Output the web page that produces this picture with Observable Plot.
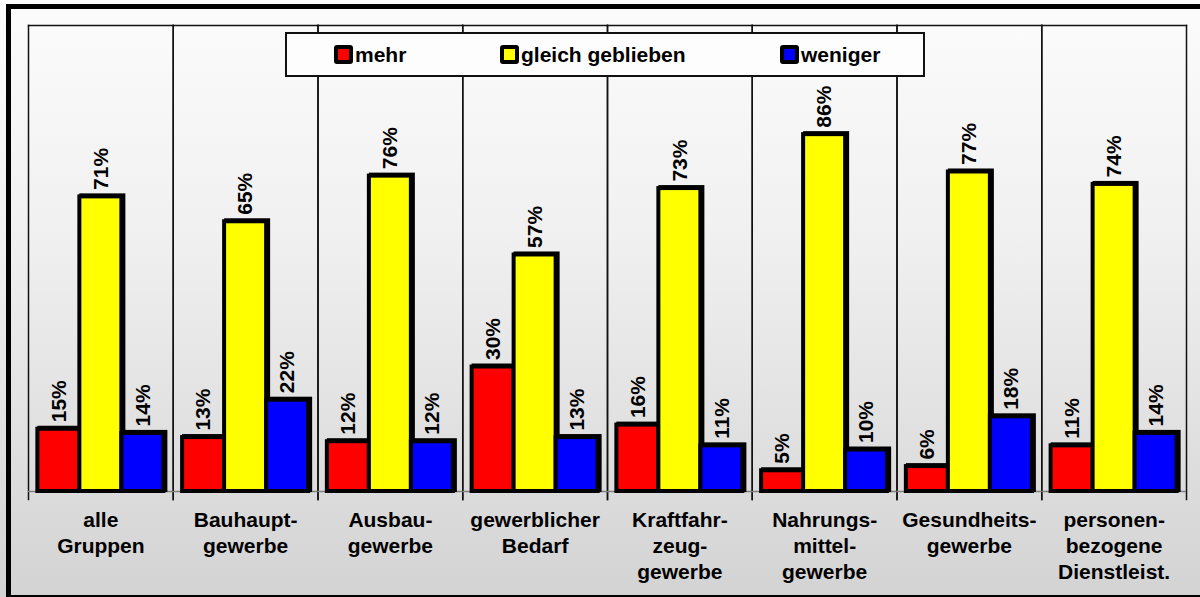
<!DOCTYPE html>
<html>
<head>
<meta charset="utf-8">
<script src="https://cdn.jsdelivr.net/npm/d3@7"></script>
<script src="https://cdn.jsdelivr.net/npm/@observablehq/plot@0.6"></script>
<style>
  html, body { margin: 0; padding: 0; background: #fff; }
  #wrap { position: relative; width: 1200px; height: 597px; overflow: hidden;
    background: linear-gradient(to bottom, #fcfcfc 0%, #f0f0f0 40%, #d3d3d3 100%);
    font-family: "Liberation Sans", Arial, sans-serif; }
  #outer { position: absolute; left: 6px; top: 4px; width: 1210px; height: 586px;
    border: 5px solid #000; box-sizing: content-box; pointer-events: none; }
  #chart { position: absolute; left: 0; top: 0; }
  #legend { position: absolute; left: 285px; top: 32px; width: 636px; height: 41px;
    background: #fdfdfd; border: 2px solid #111; }
  .item { position: absolute; top: 0; height: 41px; display: flex; align-items: center;
    font-weight: bold; font-size: 21px; color: #000; }
  .sw { width: 11px; height: 11px; border: 4px solid #000; border-radius: 3px; margin-right: 2px; }
</style>
</head>
<body>
<div id="wrap">
  <div id="chart"></div>
  <div id="legend"></div>
  <div id="outer"></div>
</div>
<script>
// ---- data ----
const categories = ["alle Gruppen", "Bauhauptgewerbe", "Ausbaugewerbe", "gewerblicher Bedarf",
  "Kraftfahrzeuggewerbe", "Nahrungsmittelgewerbe", "Gesundheitsgewerbe", "personenbezogene Dienstleist."];
const categoryLabels = ["alle\nGruppen", "Bauhaupt-\ngewerbe", "Ausbau-\ngewerbe", "gewerblicher\nBedarf",
  "Kraftfahr-\nzeug-\ngewerbe", "Nahrungs-\nmittel-\ngewerbe", "Gesundheits-\ngewerbe", "personen-\nbezogene\nDienstleist."];
const seriesNames = ["mehr", "gleich geblieben", "weniger"];
const seriesColors = ["#ff0000", "#ffff00", "#0000ff"];
const mehr    = [15, 13, 12, 30, 16, 5, 6, 11];
const gleich  = [71, 65, 76, 57, 73, 86, 77, 74];
const weniger = [14, 22, 12, 13, 11, 10, 18, 14];

// ---- table ----
const seriesValues = [mehr, gleich, weniger];
const data = [];
categories.forEach((c, i) => {
  seriesNames.forEach((s, j) => data.push({cat: c, series: s, value: seriesValues[j][i]}));
});
const catRows = categories.map((c, i) => ({cat: c, label: categoryLabels[i]}));

const font = "Liberation Sans, Arial, sans-serif";

const chart = Plot.plot({
  width: 1200,
  height: 597,
  marginLeft: 28,
  marginRight: 14,
  marginTop: 25,
  marginBottom: 106,
  style: {background: "transparent", fontFamily: font, overflow: "visible"},
  fx: {domain: categories, padding: 0, round: false, axis: null},
  x: {domain: seriesNames, paddingInner: 0, paddingOuter: 0.223, round: false, axis: null},
  y: {domain: [0, 112.3], axis: null},
  color: {domain: seriesNames, range: seriesColors},
  marks: [
    Plot.frame({anchor: "left", stroke: "#111", strokeWidth: 1.5, insetBottom: -8}),
    Plot.frame({anchor: "right", stroke: "#111", strokeWidth: 1.5, insetBottom: -8}),
    Plot.frame({anchor: "top", stroke: "#111", strokeWidth: 1.5}),
    Plot.ruleY([0], {stroke: "#808080", strokeWidth: 1.5}),
    Plot.barY(data, {fx: "cat", x: "series", y: "value", fill: "#000", stroke: "#000", strokeWidth: 4, dx: 2, dy: -1, insetLeft: 0, insetRight: 0}),
    Plot.barY(data, {fx: "cat", x: "series", y: "value", fill: "series", stroke: "#000", strokeWidth: 4, insetLeft: 0, insetRight: 0}),
    Plot.text(data, {fx: "cat", x: "series", y: "value", text: d => d.value + "%", rotate: -90,
      textAnchor: "start", dy: -7, fontSize: 21, fontWeight: "bold", fill: "#000"}),
    Plot.text(catRows, {fx: "cat", text: "label", frameAnchor: "bottom", lineAnchor: "top",
      dy: 17, lineHeight: 1.24, fontSize: 21, fontWeight: "bold", fill: "#000"})
  ]
});
document.getElementById("chart").appendChild(chart);

// ---- legend ----
const legendLefts = [47, 213, 493];
const legend = document.getElementById("legend");
seriesNames.forEach((s, j) => {
  const item = document.createElement("div");
  item.className = "item";
  item.style.left = legendLefts[j] + "px";
  const sw = document.createElement("div");
  sw.className = "sw";
  sw.style.background = seriesColors[j];
  const t = document.createElement("span");
  t.textContent = s;
  item.appendChild(sw);
  item.appendChild(t);
  legend.appendChild(item);
});
</script>
</body>
</html>
